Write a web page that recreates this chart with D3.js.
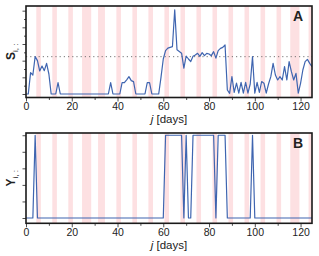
<!doctype html>
<html lang="en">
<head>
<meta charset="UTF-8">
<title>S and Y over days</title>
<script src="https://d3js.org/d3.v7.min.js"></script>
<style>
  body { margin: 0; background: #fff; }
  text { font-family: "Liberation Sans", Arial, sans-serif; }
</style>
</head>
<body>
<div id="chart-area"></div>
<script>

// day index 0..125
const days = d3.range(0, 126);

// panel A: S_{i,:}
const sValues = [
    0, 0, 1.28, 1.14, 2.24, 2.0, 1.38, 1.68, 1.4, 1.84,
    1.2, 0, 0, 0, 0.68, 0, 0, 0, 0, 0,
    0, 0, 0, 0, 0, 0, 0, 0, 0, 0,
    0, 0, 0, 0, 0, 0, 0, 0.68, 0, 0,
    0, 0, 0.68, 0.68, 0.85, 1.04, 0.8, 0.74, 0, 0,
    0, 0, 0, 0.68, 0.68, 0, 0, 0, 0, 1.0,
    2.1, 2.6, 2.75, 2.8, 2.84, 5.05, 2.65, 2.55, 2.45, 1.55,
    2.28, 2.1, 1.95, 2.26, 2.34, 2.44, 2.26, 2.48, 2.3, 2.44,
    2.4, 2.3, 2.54, 2.15, 2.6, 2.74, 2.8, 2.94, 0.24, 0.04,
    1.05, 0.1, 0.65, 0.05, 0.7, 0.05, 0.7, 0.05, 0.6, 2.24,
    0.05, 0.7, 0.1, 0.75, 0.65, 0.05, 0.6, 1.04, 1.84, 1.14,
    0.84, 1.04, 0.84, 1.64, 0.84, 1.94, 1.34, 0.84, 1.24, 0.05,
    0.64, 1.44, 1.94, 2.08, 1.84, 1.64
];
const sThreshold = 2.24;

// panel B: Y_{i,:}
const yValues = [
    0, 0, 0, 0, 1, 0, 0, 0, 0, 0,
    0, 0, 0, 0, 0, 0, 0, 0, 0, 0,
    0, 0, 0, 0, 0, 0, 0, 0, 0, 0,
    0, 0, 0, 0, 0, 0, 0, 0, 0, 0,
    0, 0, 0, 0, 0, 0, 0, 0, 0, 0,
    0, 0, 0, 0, 0, 0, 0, 0, 0, 0,
    0, 1, 1, 1, 1, 1, 1, 1, 1, 0,
    1, 0, 0, 1, 1, 1, 1, 1, 1, 1,
    1, 1, 1, 0, 1, 1, 1, 1, 0, 0,
    0, 0, 0, 0, 0, 0, 0, 0, 0, 1,
    0, 0, 0, 0, 0, 0, 0, 0, 0, 0,
    0, 0, 0, 0, 0, 0, 0, 0, 0, 0,
    0, 0, 0, 0, 0, 0
];

// weekend / holiday days (shaded)
const offDays = [5, 6, 12, 13, 19, 20, 25, 26, 27, 28, 32, 33, 34, 40, 41, 47, 48,
    54, 55, 61, 62, 68, 69, 75, 76, 82, 83, 89, 90, 96, 97, 103, 104,
    110, 111, 116, 117, 118, 119, 124, 125];

const xTicks = [0, 20, 40, 60, 80, 100, 120];

const W = 319, H = 256;
const left = 26, right = 312;

const svg = d3.select('#chart-area')
    .append('svg')
    .attr('width', W)
    .attr('height', H);

const x = d3.scaleLinear()
    .domain([0, 125])
    .range([left, right]);

// merge off days into runs
const bands = [];
offDays.forEach(d => {
    const last = bands[bands.length - 1];
    if (last && last[1] === d - 1) last[1] = d;
    else bands.push([d, d]);
});

function panel(cfg) {
    const y = d3.scaleLinear().domain(cfg.domain).range([cfg.bottom, cfg.top]);
    const g = svg.append('g');

    const clipId = 'clip-' + cfg.name;
    g.append('clipPath').attr('id', clipId)
        .append('rect')
        .attr('x', left).attr('y', cfg.top)
        .attr('width', right - left).attr('height', cfg.bottom - cfg.top);

    const inner = g.append('g').attr('clip-path', `url(#${clipId})`);

    inner.selectAll('rect.band').data(bands).enter().append('rect')
        .attr('class', 'band')
        .attr('x', d => x(d[0] - 0.5))
        .attr('width', d => x(d[1] + 0.5) - x(d[0] - 0.5))
        .attr('y', cfg.top)
        .attr('height', cfg.bottom - cfg.top)
        .attr('fill', '#fde0e2');

    if (cfg.threshold !== undefined) {
        inner.append('line')
            .attr('x1', left).attr('x2', right)
            .attr('y1', y(cfg.threshold)).attr('y2', y(cfg.threshold))
            .attr('stroke', '#666')
            .attr('stroke-width', 0.9)
            .attr('stroke-dasharray', '1.2,3');
    }

    const line = d3.line()
        .x((d, i) => x(days[i]))
        .y(d => y(d));

    inner.append('path')
        .datum(cfg.values)
        .attr('d', line)
        .attr('fill', 'none')
        .attr('stroke', '#3f65b0')
        .attr('stroke-width', 1.2)
        .attr('stroke-linejoin', 'round');

    // x axis: major labelled, minor unlabelled
    const xMinor = d3.axisBottom(x).tickValues(d3.range(10, 125, 20)).tickSize(2.5).tickFormat('');
    g.append('g').attr('transform', `translate(0,${cfg.bottom})`).call(xMinor)
        .call(a => a.select('.domain').remove());
    const xAxis = d3.axisBottom(x).tickValues(xTicks).tickSize(4).tickPadding(1.5);
    g.append('g').attr('transform', `translate(0,${cfg.bottom})`).call(xAxis)
        .call(a => a.select('.domain').remove())
        .selectAll('text')
            .attr('font-size', '10.5px')
            .attr('fill', '#222');

    // y axis: ticks only, no labels
    const yMajor = d3.axisLeft(y).tickValues(cfg.major).tickSize(3.5).tickFormat('');
    g.append('g').attr('transform', `translate(${left},0)`).call(yMajor)
        .call(a => a.select('.domain').remove());
    const yMinor = d3.axisLeft(y).tickValues(cfg.minor).tickSize(2).tickFormat('');
    g.append('g').attr('transform', `translate(${left},0)`).call(yMinor)
        .call(a => a.select('.domain').remove());

    g.selectAll('.tick line').attr('stroke', '#222').attr('stroke-width', 0.8);

    // frame
    g.append('rect')
        .attr('x', left).attr('y', cfg.top)
        .attr('width', right - left).attr('height', cfg.bottom - cfg.top)
        .attr('fill', 'none')
        .attr('stroke', '#1a1a1a')
        .attr('stroke-width', 1.6);

    // x title
    const xt = g.append('text')
        .attr('x', (left + right) / 2)
        .attr('y', cfg.bottom + 25.5)
        .attr('text-anchor', 'middle')
        .attr('font-size', '11.5px')
        .attr('fill', '#222');
    xt.append('tspan').attr('font-style', 'italic').text('j');
    xt.append('tspan').text(' [days]');

    // y title
    const ymid = (cfg.top + cfg.bottom) / 2;
    const yt = g.append('text')
        .attr('transform', `translate(15,${ymid}) rotate(-90)`)
        .attr('text-anchor', 'middle')
        .attr('font-size', '12px')
        .attr('font-weight', 'bold')
        .attr('fill', '#222');
    yt.append('tspan').text(cfg.label);
    yt.append('tspan').attr('font-size', '8px').attr('font-weight', 'normal')
        .attr('dy', 3).text('i, :');

    // panel letter
    g.append('text')
        .attr('x', right - 9)
        .attr('y', cfg.top + 15)
        .attr('text-anchor', 'end')
        .attr('font-size', '14px')
        .attr('font-weight', 'bold')
        .attr('fill', '#222')
        .text(cfg.name);
}

panel({
    name: 'A', label: 'S', values: sValues, threshold: sThreshold,
    top: 6, bottom: 97.5, domain: [-0.21, 5.28],
    major: [0, 1, 2, 3, 4, 5], minor: [0.5, 1.5, 2.5, 3.5, 4.5]
});

panel({
    name: 'B', label: 'Y', values: yValues,
    top: 133, bottom: 223.3, domain: [-0.064, 1.027],
    major: [0, 0.2, 0.4, 0.6, 0.8, 1.0], minor: []
});

</script>
</body>
</html>
